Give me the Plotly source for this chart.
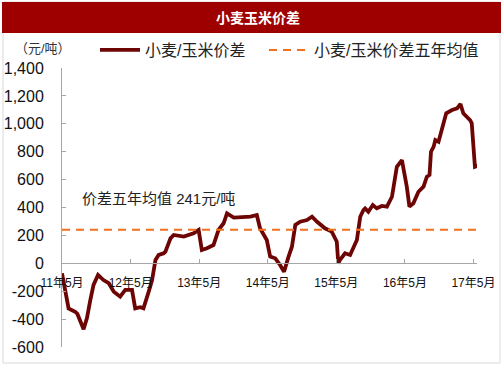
import plotly.graph_objects as go

# ---- data ----
dates = [
    "2011-05-01", "2011-06-05", "2011-07-10", "2011-07-22", "2011-08-24", "2011-09-11",
    "2011-09-29", "2011-10-16", "2011-11-09", "2011-12-08", "2012-01-05", "2012-02-01",
    "2012-03-06", "2012-04-02", "2012-05-08", "2012-05-25", "2012-06-21", "2012-07-08",
    "2012-08-05", "2012-08-23", "2012-09-10", "2012-09-27", "2012-10-24", "2012-11-02",
    "2012-11-29", "2012-12-16", "2013-02-08", "2013-04-01", "2013-04-28", "2013-05-15",
    "2013-06-11", "2013-07-16", "2013-08-12", "2013-09-08", "2013-09-26", "2013-11-01",
    "2014-01-29", "2014-03-04", "2014-03-21", "2014-04-26", "2014-05-14", "2014-06-10",
    "2014-07-06", "2014-07-27", "2014-08-20", "2014-09-07", "2014-09-25", "2014-10-21",
    "2014-11-26", "2014-12-23", "2015-01-19", "2015-03-02", "2015-04-07", "2015-05-04",
    "2015-05-12", "2015-05-21", "2015-06-17", "2015-07-14", "2015-08-19", "2015-09-06",
    "2015-09-23", "2015-10-02", "2015-10-19", "2015-11-12", "2015-12-03", "2015-12-30",
    "2016-01-26", "2016-02-22", "2016-03-19", "2016-04-15", "2016-05-11", "2016-05-25",
    "2016-06-15", "2016-07-12", "2016-08-08", "2016-08-26", "2016-09-09", "2016-09-17",
    "2016-10-01", "2016-10-10", "2016-10-27", "2016-11-15", "2016-12-07", "2017-01-07",
    "2017-02-03", "2017-02-21", "2017-03-08", "2017-04-13", "2017-04-22", "2017-05-09",
    "2017-05-25",
]
spread = [
    -72, -323, -347, -363, -473, -392,
    -263, -155, -84, -120, -143, -203,
    -239, -191, -191, -323, -315, -323,
    -203, -120, 24, 60, 72, 83,
    179, 203, 191, 215, 239, 95,
    108, 131, 239, 287, 358, 327,
    334, 346, 251, 167, 48, 36,
    -12, -60, 48, 119, 275, 298,
    310, 334, 298, 251, 227, 155,
    0, 24, 72, 60, 167, 334,
    382, 394, 370, 418, 394, 411,
    406, 477, 692, 740, 549, 406,
    430, 513, 549, 621, 633, 800,
    836, 884, 872, 956, 1075, 1099,
    1111, 1142, 1075, 1027, 1004, 692,
    700,
]
avg_value = 241
avg_dates = ["2011-05-01", "2017-05-25"]

x_tick_vals = ["2011-05-01", "2012-05-01", "2013-05-01", "2014-05-01",
               "2015-05-01", "2016-05-01", "2017-05-01"]
x_tick_text = ["11年5月", "12年5月", "13年5月", "14年5月", "15年5月", "16年5月", "17年5月"]
y_tick_vals = [-600, -400, -200, 0, 200, 400, 600, 800, 1000, 1200, 1400]
y_tick_text = ["-600", "-400", "-200", "0", "200", "400", "600", "800", "1,000", "1,200", "1,400"]

title_text = "小麦玉米价差"
unit_text = "（元/吨）"
series_name = "小麦/玉米价差"
avg_name = "小麦/玉米价差五年均值"
note_text = "价差五年均值 241元/吨"

# ---- layout geometry ----
W, H = 503, 378
ML, MR, MT, MB = 62, 26, 68, 31
PW, PH = W - ML - MR, H - MT - MB


def px(x):
    return (x - ML) / PW


def py(y):
    return (H - MB - y) / PH


FONT = "Arial, 'Liberation Sans', 'Noto Sans CJK SC', sans-serif"

fig = go.Figure()
fig.add_trace(go.Scatter(
    x=dates, y=spread, mode="lines", name=series_name,
    line=dict(color="#6E0505", width=3.8), legend="legend",
))
fig.add_trace(go.Scatter(
    x=avg_dates, y=[avg_value, avg_value], mode="lines", name=avg_name,
    line=dict(color="#F2711C", width=2, dash="8px,6px"), legend="legend2",
))

shapes = [
    # outer border
    dict(type="rect", xref="paper", yref="paper", x0=px(3), x1=px(500), y0=py(363), y1=py(2),
         line=dict(color="#D9D9D9", width=1), fillcolor="rgba(0,0,0,0)", layer="below"),
    # title bar
    dict(type="rect", xref="paper", yref="paper", x0=px(2), x1=px(501), y0=py(33), y1=py(2),
         line=dict(width=0), fillcolor="#9E0000", layer="below"),
]

annotations = [
    dict(text=f"<b>{title_text}</b>", xref="paper", yref="paper", x=px(258), y=py(18),
         showarrow=False, font=dict(family=FONT, size=14, color="white"),
         xanchor="center", yanchor="middle"),
    dict(text=unit_text, xref="paper", yref="paper", x=px(43), y=py(49),
         showarrow=False, font=dict(family=FONT, size=13, color="#333333"),
         xanchor="center", yanchor="middle"),
    dict(text=note_text, xref="paper", yref="paper", x=px(80), y=py(198),
         showarrow=False, font=dict(family=FONT, size=15, color="#222222"),
         xanchor="left", yanchor="middle"),
]

legend_common = dict(orientation="h", y=py(50), xanchor="left", yanchor="middle",
                     font=dict(family=FONT, size=16, color="#222222"),
                     bgcolor="rgba(0,0,0,0)", itemwidth=40)

fig.update_layout(
    width=W, height=H,
    margin=dict(l=ML, r=MR, t=MT, b=MB, pad=0, autoexpand=False),
    paper_bgcolor="white", plot_bgcolor="white",
    font=dict(family=FONT, color="#111111"),
    showlegend=True,
    legend=dict(x=px(95), **legend_common),
    legend2=dict(x=px(264), **legend_common),
    shapes=shapes,
    annotations=annotations,
)

fig.update_xaxes(
    type="date", range=["2011-05-01", "2017-05-20"],
    anchor="free", position=0.3, automargin=False,
    showgrid=False, zeroline=False,
    showline=True, linecolor="#A6A6A6", linewidth=1,
    ticks="inside", ticklen=4, tickcolor="#A6A6A6",
    tickvals=x_tick_vals, ticktext=x_tick_text,
    tickfont=dict(family=FONT, size=12, color="#111111"),
    ticklabelstandoff=8,
)
fig.update_yaxes(
    range=[-600, 1400], automargin=False,
    showgrid=False, zeroline=False,
    showline=True, linecolor="#A6A6A6", linewidth=1,
    ticks="inside", ticklen=4, tickcolor="#A6A6A6",
    tickvals=y_tick_vals, ticktext=y_tick_text,
    tickfont=dict(family=FONT, size=16, color="#111111"),
    ticklabelstandoff=14,
)

fig.write_html(
    "out.html",
    config={"displayModeBar": False},
    post_script="document.body.style.margin='0';document.body.style.overflow='hidden';",
)
